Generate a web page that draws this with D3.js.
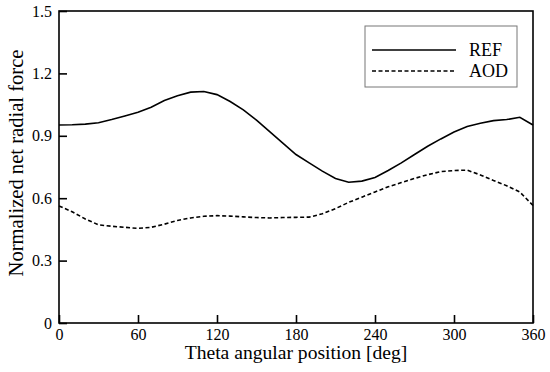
<!DOCTYPE html>
<html>
<head>
<meta charset="utf-8">
<script src="https://cdn.jsdelivr.net/npm/d3@7"></script>
<style>
  body { margin: 0; background: #fff; }
  text { font-family: "Liberation Serif", "Times New Roman", serif; fill: #000; }
</style>
</head>
<body>
<svg id="chart"></svg>
<script>
// Angles (deg) at which both curves were sampled
const theta = [0, 10, 20, 30, 40, 50, 60, 70, 80, 90, 100, 110, 120, 130, 140, 150, 160, 170, 180,
    190, 200, 210, 220, 230, 240, 250, 260, 270, 280, 290, 300, 310, 320, 330, 340, 350, 360];

// Normalized net radial force, reference design
const refValues = [0.952, 0.953, 0.956, 0.963, 0.978, 0.995, 1.013, 1.037, 1.07, 1.093, 1.11, 1.113, 1.098,
    1.065, 1.025, 0.975, 0.92, 0.865, 0.81, 0.77, 0.73, 0.695, 0.677, 0.682, 0.7, 0.733, 0.77, 0.81,
    0.85, 0.885, 0.918, 0.945, 0.96, 0.973, 0.978, 0.989, 0.952];

// Normalized net radial force, AOD design
const aodValues = [0.563, 0.535, 0.5, 0.472, 0.465, 0.46, 0.455, 0.46, 0.475, 0.493, 0.505, 0.513, 0.516,
    0.514, 0.51, 0.507, 0.505, 0.507, 0.508, 0.509, 0.525, 0.55, 0.58, 0.605, 0.63, 0.655, 0.675, 0.695,
    0.713, 0.728, 0.733, 0.735, 0.712, 0.685, 0.66, 0.63, 0.565];

const xTicks = [0, 60, 120, 180, 240, 300, 360];
const yTicks = [0, 0.3, 0.6, 0.9, 1.2, 1.5];
const seriesNames = ["REF", "AOD"];

const width = 550, height = 372;
const margin = { top: 11, right: 17, bottom: 49, left: 59 };
const innerW = width - margin.left - margin.right;
const innerH = height - margin.top - margin.bottom;
const serif = "'Liberation Serif', 'Times New Roman', serif";

const svg = d3.select("#chart")
    .attr("width", width)
    .attr("height", height);

const g = svg.append("g")
    .attr("transform", `translate(${margin.left},${margin.top})`);

const x = d3.scaleLinear().domain([0, 360]).range([0, innerW]);
const y = d3.scaleLinear().domain([0, 1.5]).range([innerH, 0]);

// Curves
const line = d3.line()
    .x(d => x(d[0]))
    .y(d => y(d[1]));

g.append("path")
    .datum(theta.map((t, i) => [t, refValues[i]]))
    .attr("d", line)
    .attr("fill", "none")
    .attr("stroke", "#000")
    .attr("stroke-width", 1.6);

g.append("path")
    .datum(theta.map((t, i) => [t, aodValues[i]]))
    .attr("d", line)
    .attr("fill", "none")
    .attr("stroke", "#000")
    .attr("stroke-width", 1.6)
    .attr("stroke-dasharray", "4,2.5");

// Frame
g.append("rect")
    .attr("width", innerW)
    .attr("height", innerH)
    .attr("fill", "none")
    .attr("stroke", "#000")
    .attr("stroke-width", 1.6);

// Axes with inward ticks
const xAxis = g.append("g")
    .attr("transform", `translate(0,${innerH})`)
    .call(d3.axisBottom(x).tickValues(xTicks).tickSize(-8).tickPadding(6).tickFormat(d3.format("d")));

const yAxis = g.append("g")
    .call(d3.axisLeft(y).tickValues(yTicks).tickSize(-8).tickPadding(7).tickFormat(d => d === 0 ? "0" : d3.format(".1f")(d)));

[xAxis, yAxis].forEach(a => {
    a.attr("font-family", serif).attr("font-size", 16);
    a.select(".domain").remove();
    a.selectAll(".tick line").attr("stroke", "#000").attr("stroke-width", 1.6);
    a.selectAll(".tick text").attr("fill", "#000");
});

// Axis titles
svg.append("text")
    .attr("x", margin.left + innerW / 2)
    .attr("y", 359)
    .attr("text-anchor", "middle")
    .attr("font-family", serif)
    .attr("font-size", 19.6)
    .text("Theta angular position [deg]");

svg.append("text")
    .attr("transform", "translate(23,163) rotate(-90)")
    .attr("text-anchor", "middle")
    .attr("font-family", serif)
    .attr("font-size", 20.6)
    .text("Normalized net radial force");

// Legend
const legend = svg.append("g").attr("transform", "translate(365,26)");
legend.append("rect")
    .attr("width", 152)
    .attr("height", 61)
    .attr("fill", "#fff")
    .attr("stroke", "#777")
    .attr("stroke-width", 1);

seriesNames.forEach((name, i) => {
    const ly = 24 + i * 21;
    legend.append("line")
        .attr("x1", 7).attr("x2", 91)
        .attr("y1", ly).attr("y2", ly)
        .attr("stroke", "#000")
        .attr("stroke-width", 1.6)
        .attr("stroke-dasharray", i === 1 ? "4,2.5" : null);
    legend.append("text")
        .attr("x", 104)
        .attr("y", ly)
        .attr("dy", "0.35em")
        .attr("font-family", serif)
        .attr("font-size", 18)
        .text(name);
});
</script>
</body>
</html>
